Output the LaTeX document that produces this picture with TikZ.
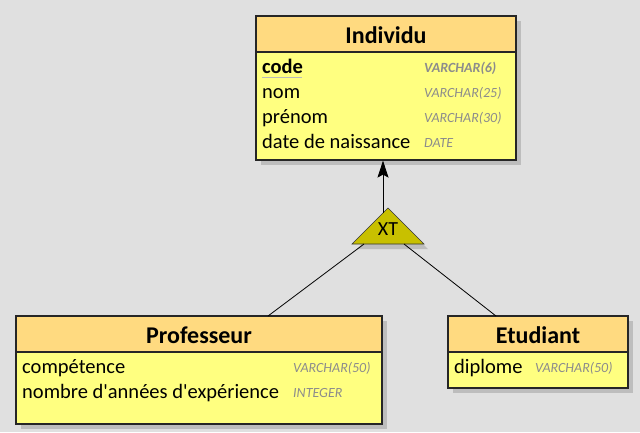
\documentclass[tikz,border=0pt]{standalone}
\usepackage{fontspec}
\setmainfont{Carlito}
\usetikzlibrary{arrows.meta}
\definecolor{bg}{HTML}{E0E0E0}
\definecolor{hdr}{HTML}{FFDA80}
\definecolor{bdy}{HTML}{FFFF80}
\definecolor{shd}{HTML}{BDBDBD}
\definecolor{tri}{HTML}{C8C000}
\definecolor{typ}{HTML}{8C8C8C}
\tikzset{
  shadowbox/.style={fill=shd},
  boxbody/.style={fill=bdy,draw=black!85,line width=1.2pt},
  boxhead/.style={fill=hdr,draw=black!85,line width=1.2pt},
  title/.style={font=\fontsize{24}{28}\selectfont\bfseries,anchor=center},
  attr/.style={font=\fontsize{20.5}{24}\selectfont,anchor=base west,inner sep=0pt},
  typ/.style={font=\fontsize{14}{16}\selectfont\itshape,text=typ,anchor=base west,inner sep=0pt},
  link/.style={draw=black,line width=0.8pt}
}
\begin{document}
\begin{tikzpicture}[x=1pt,y=-1pt]
\fill[bg] (0,0) rectangle (640,432);
\useasboundingbox (0,0) rectangle (640,432);
% Individu
\fill[shadowbox] (261,21) rectangle (521,165);
\draw[boxbody] (256,16) rectangle (516,160);
\draw[boxhead] (256,16) rectangle (516,52);
\node[title] (ti) at (386,35) {Individu};
\node[attr] (a1) at (262,73) {\bfseries code};
\draw[draw=typ!60,line width=0.8pt] (262,77) -- (302,77);
\node[typ,font=\fontsize{14}{16}\selectfont\bfseries\itshape] (t1) at (424,72) {VARCHAR(6)};
\node[attr] (a2) at (262,98) {nom};
\node[typ] (t2) at (424,97) {VARCHAR(25)};
\node[attr] (a3) at (262,123) {prénom};
\node[typ] (t3) at (424,122) {VARCHAR(30)};
\node[attr] (a4) at (262,148) {date de naissance};
\node[typ] (t4) at (424,147) {DATE};
\coordinate (ib) at (383,160.6);
% Professeur
\fill[shadowbox] (21,321) rectangle (387,429);
\draw[boxbody] (16,316) rectangle (382,424);
\draw[boxhead] (16,316) rectangle (382,352);
\node[title] (tp) at (199,335) {Professeur};
\node[attr] (p1) at (22,373) {compétence};
\node[typ] (pt1) at (293,372) {VARCHAR(50)};
\node[attr] (p2) at (22,398) {nombre d\textquotesingle années d\textquotesingle expérience};
\node[typ] (pt2) at (293,397) {INTEGER};
\coordinate (pb) at (268,316);
% Etudiant
\fill[shadowbox] (453,321) rectangle (633,393);
\draw[boxbody] (448,316) rectangle (628,388);
\draw[boxhead] (448,316) rectangle (628,352);
\node[title] (te) at (538,335) {Etudiant};
\node[attr] (e1) at (454,373) {diplome};
\node[typ] (et1) at (535,372) {VARCHAR(50)};
\coordinate (eb) at (496,316);
% triangle
\fill[shadowbox] (392,213) -- (428,249) -- (357,249) -- cycle;
\draw[fill=tri,draw=black!80,line width=0.6pt] (388,208) -- (424,244) -- (352,244) -- cycle;
\node[font=\fontsize{20}{22}\selectfont] (xt) at (388,229) {XT};
\coordinate (tl) at (364,244);
\coordinate (tr) at (404,244);
\coordinate (tt) at (383,213);
\draw[link,-{Stealth[length=17pt,width=11pt,inset=3pt]}] (tt) -- (ib);
\draw[link] (tl) -- (pb);
\draw[link] (tr) -- (eb);
\end{tikzpicture}
\end{document}
